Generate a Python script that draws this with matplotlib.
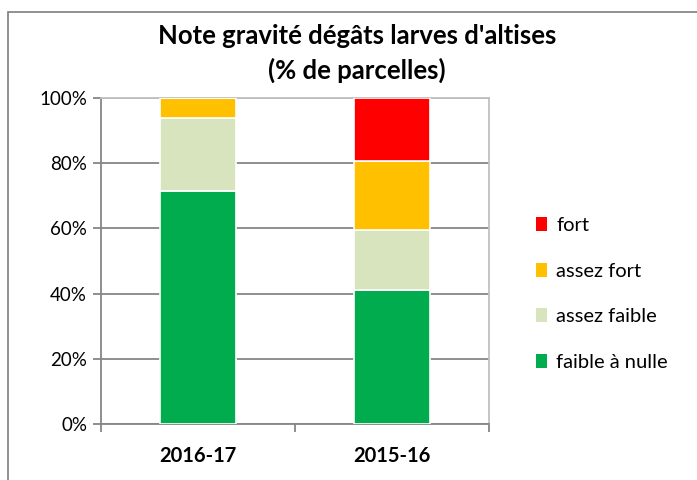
import matplotlib.pyplot as plt
import matplotlib.patches as patches
import numpy as np

plt.rcParams['font.family'] = ['Lato', 'DejaVu Sans']

# data (percent of plots per severity class)
seasons = ["2016-17", "2015-16"]
classes = ["faible à nulle", "assez faible", "assez fort", "fort"]
faible_nulle = [71.4, 41.2]
assez_faible = [22.6, 18.4]
assez_fort = [6.0, 21.2]
fort = [0.0, 19.2]
colors = ["#00AC4E", "#D7E4BD", "#FFC000", "#FF0000"]

series = [faible_nulle, assez_faible, assez_fort, fort]

fig = plt.figure(figsize=(6.97, 4.80), dpi=100)
# outer chart frame
fig.add_artist(patches.Rectangle((8 / 697, -0.1), 1.0, 1 - 12 / 480 + 0.1,
                                 transform=fig.transFigure, fill=False,
                                 edgecolor="#888888", linewidth=1.3))

ax = fig.add_axes([101 / 697, 1 - 424 / 480, 388 / 697, 326 / 480])

x = np.arange(len(seasons))
bottom = np.zeros(len(seasons))
handles = []
for vals, col, lab in zip(series, colors, classes):
    vals = np.array(vals)
    b = ax.bar(x, vals, bottom=bottom, width=0.39, color=col,
               edgecolor="white", linewidth=1.2, label=lab, zorder=3)
    handles.append(b)
    bottom += vals

ax.set_xlim(-0.5, 1.5)
ax.set_ylim(0, 100)
ax.set_yticks(np.arange(0, 101, 20))
ax.set_yticklabels([f"{v}%" for v in range(0, 101, 20)], fontsize=13.5)
ax.yaxis.grid(True, color="#868686", linewidth=1.3, zorder=0)
ax.set_axisbelow(True)

ax.set_xticks(x)
ax.set_xticklabels(seasons, fontsize=14.5, fontweight="bold")
ax.tick_params(axis="x", length=0, pad=16)
ax.set_xticks([-0.5, 0.5, 1.5], minor=True)
ax.tick_params(axis="x", which="minor", length=6, color="#868686", width=1.3)
ax.tick_params(axis="y", length=6, color="#868686", width=1.3, pad=4)

for side in ["left", "bottom"]:
    ax.spines[side].set_color("#868686")
    ax.spines[side].set_linewidth(1.3)
for side in ["top", "right"]:
    ax.spines[side].set_color("#C0C0C0")
    ax.spines[side].set_linewidth(1.3)

fig.text(357 / 697, 1 - 36 / 480, "Note gravité dégâts larves d'altises",
         ha="center", va="center", fontsize=18.5, fontweight="bold")
fig.text(357 / 697, 1 - 70 / 480, "(% de parcelles)",
         ha="center", va="center", fontsize=18.5, fontweight="bold")

leg = fig.legend(handles[::-1], classes[::-1], loc="center left",
                 bbox_to_anchor=(518 / 697, 1 - 294 / 480), frameon=False,
                 fontsize=14.5, handlelength=0.55, handleheight=0.7,
                 handletextpad=0.45, labelspacing=1.42)
for h in leg.legend_handles:
    h.set_edgecolor("none")

fig.savefig("out.png", dpi=100)
